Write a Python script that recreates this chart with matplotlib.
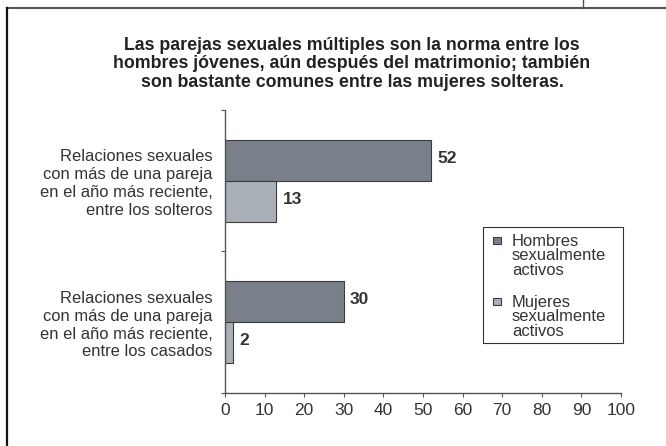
import numpy as np
import matplotlib.pyplot as plt
from matplotlib.patches import Rectangle
from matplotlib.lines import Line2D

plt.rcParams['font.family'] = ['Liberation Sans', 'DejaVu Sans']

categories = ['Relaciones sexuales\ncon más de una pareja\nen el año más reciente,\nentre los solteros',
              'Relaciones sexuales\ncon más de una pareja\nen el año más reciente,\nentre los casados']
series_names = ['Hombres\nsexualmente\nactivos', 'Mujeres\nsexualmente\nactivos']
hombres = [52, 30]
mujeres = [13, 2]
xticks = np.arange(0, 101, 10)

title = ('Las parejas sexuales múltiples son la norma entre los\n'
         'hombres jóvenes, aún después del matrimonio; también\n'
         'son bastante comunes entre las mujeres solteras.')

dark = '#7a8089'
light = '#aab0b8'
edge = '#3c3c3c'
txt = '#333333'

W, H = 666, 446
fig = plt.figure(figsize=(6.66, 4.46), dpi=100)
ax = fig.add_axes([225 / W, 1 - 393 / H, 396 / W, 283 / H])

y = np.arange(len(categories))
h = 0.29
ax.barh(y - h / 2, hombres, height=h, color=dark, edgecolor=edge, linewidth=0.8)
ax.barh(y + h / 2, mujeres, height=h, color=light, edgecolor=edge, linewidth=0.8)

for yi, v in zip(y - h / 2, hombres):
    ax.annotate(str(v), (v, yi), xytext=(4.5, 1.5), textcoords='offset points',
                ha='left', va='center', fontsize=12.5, fontweight='bold', color=txt)
for yi, v in zip(y + h / 2, mujeres):
    ax.annotate(str(v), (v, yi), xytext=(4.5, 1.5), textcoords='offset points',
                ha='left', va='center', fontsize=12.5, fontweight='bold', color=txt)

ax.set_xlim(0, 100)
ax.set_ylim(1.5, -0.5)
ax.set_xticks(xticks)
ax.set_xticklabels([str(t) for t in xticks], fontsize=12.5, color=txt)
ax.set_yticks([-0.5, 0.5, 1.5])
ax.set_yticklabels([])
ax.set_yticks(y, minor=True)
ax.set_yticklabels(categories, minor=True, fontsize=11.9, color=txt)
for lab in ax.get_yticklabels(minor=True):
    lab.set_linespacing(1.23)
ax.tick_params(axis='y', which='minor', length=0, pad=9)
ax.tick_params(axis='y', which='major', length=3, width=0.8, color='#555555', direction='out')
ax.tick_params(axis='x', length=3, width=0.8, color='#555555', direction='out', pad=4)

for s in ['top', 'right']:
    ax.spines[s].set_visible(False)
for s in ['left', 'bottom']:
    ax.spines[s].set_color('#555555')
    ax.spines[s].set_linewidth(1.0)

# legend box, drawn by hand so the keys sit beside the first line
fig.add_artist(Rectangle((483 / W, 1 - 343 / H), 140 / W, 116 / H, transform=fig.transFigure,
                         facecolor='white', edgecolor='#333333', linewidth=0.8))
key_tops = [237, 298]
for top, col, name in zip(key_tops, [dark, light], series_names):
    fig.add_artist(Rectangle((493 / W, 1 - (top + 7) / H), 8 / W, 7 / H, transform=fig.transFigure,
                             facecolor=col, edgecolor=edge, linewidth=0.8))
    fig.text(512 / W, 1 - (top - 3) / H, name, ha='left', va='top', fontsize=11.9,
             color=txt, linespacing=0.95)

fig.text(352 / W, 1 - 64 / H, title, ha='center', va='center', fontsize=12.8,
         fontweight='bold', color='#222222', linespacing=1.12)

# page frame
fig.add_artist(Line2D([7 / W, 1], [1 - 7.5 / H] * 2, color='#555555', lw=1.5))
fig.add_artist(Line2D([583 / W] * 2, [1, 1 - 7.5 / H], color='#555555', lw=1.0))
fig.add_artist(Line2D([7 / W] * 2, [0, 1 - 7.5 / H], color='#111111', lw=1.6))

fig.savefig('out.png', dpi=100)
